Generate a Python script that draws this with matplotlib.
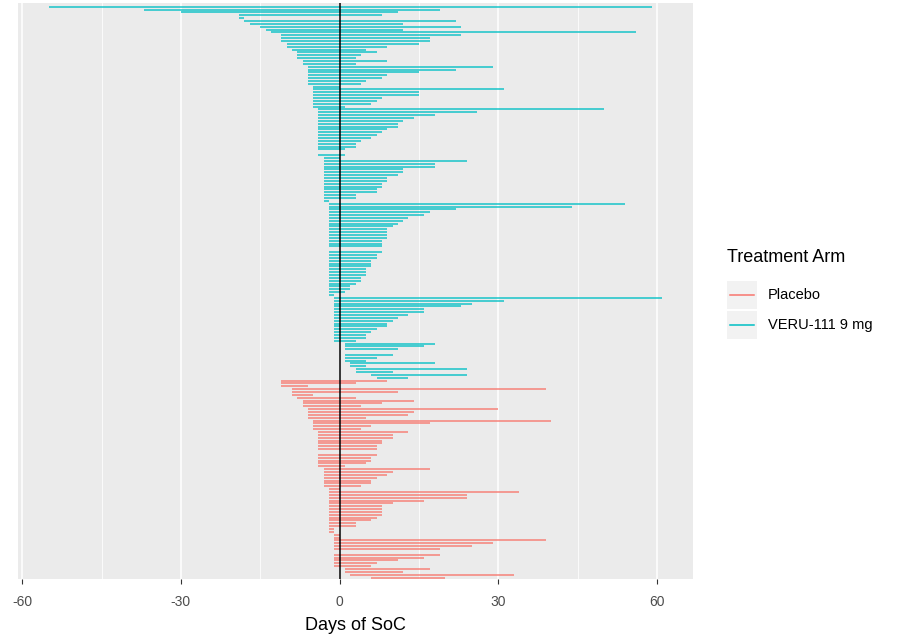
import numpy as np
import matplotlib
matplotlib.use("Agg")
import matplotlib.pyplot as plt
from matplotlib.patches import Rectangle
from matplotlib.lines import Line2D

plt.rcParams['font.family'] = ['Liberation Sans', 'DejaVu Sans']
plt.rcParams['axes.unicode_minus'] = False

# VERU-111 9 mg rows, top to bottom (nan = empty row)
veru_start = [-55, -37, -30, -19, -19, -18, -17, -15, -14, -13, -11, -11, -11, -10, -10, -9,
              -8, -8, -8, -7, -7, -6, -6, -6, -6, -6, -6, -6, -5, -5, -5, -5, -5, -5, -5, -5,
              -4, -4, -4, -4, -4, -4, -4, -4, -4, -4, -4, -4, -4, -4, -4, np.nan, -4,
              -3, -3, -3, -3, -3, -3, -3, -3, -3, -3, -3, -3, -3, -3, -3, -3,
              -2, -2, -2, -2, -2, -2, -2, -2, -2, -2, -2, -2, -2, -2, -2, -2, np.nan,
              -2, -2, -2, -2, -2, -2, -2, -2, -2, -2, -2, -2, -2, -2, -2, -2,
              -1, -1, -1, -1, -1, -1, -1, -1, -1, -1, -1, -1, -1, -1, -1, -1,
              1, 1, 1, np.nan, 1, 1, 1, 2, 2, 3, 3, 6, 7]
veru_end = [59, 19, 11, 8, -18, 22, 12, 23, 12, 56, 23, 17, 17, 15, 9, 5,
            7, 4, 3, 9, 3, 29, 22, 15, 9, 8, 5, 4, 0, 31, 15, 15, 8, 7, 6, 1,
            50, 26, 18, 14, 12, 11, 11, 9, 8, 7, 6, 4, 3, 3, 1, np.nan, 1,
            0, 24, 18, 18, 12, 12, 11, 9, 9, 8, 8, 7, 7, 3, 3, -2,
            54, 44, 22, 17, 16, 13, 12, 11, 10, 9, 9, 9, 9, 8, 8, 8, np.nan,
            8, 7, 7, 6, 6, 6, 5, 5, 5, 4, 4, 3, 2, 2, 1, -1,
            61, 31, 25, 23, 16, 16, 13, 11, 10, 9, 9, 7, 6, 5, 5, 3,
            18, 16, 11, np.nan, 10, 7, 5, 18, 5, 24, 10, 24, 13]

# Placebo rows, top to bottom
plac_start = [-11, -11, -11, -9, -9, -9, -8, -7, -7, -7, -6, -6, -6, -6, -5, -5, -5, -5,
              -4, -4, -4, -4, -4, -4, -4, np.nan, -4, -4, -4, -4, -4,
              -3, -3, -3, -3, -3, -3, -3,
              -2, -2, -2, -2, -2, -2, -2, -2, -2, -2, -2, -2, -2, -2, -2, -2,
              -1, -1, -1, -1, -1, -1, np.nan, -1, -1, -1, -1, -1, 1, 1, 2, 6]
plac_end = [9, 3, -6, 39, 11, -5, 3, 14, 8, 4, 30, 14, 13, 5, 40, 17, 6, 4,
            13, 10, 10, 8, 8, 7, 7, np.nan, 7, 6, 6, 5, 1,
            17, 10, 9, 7, 6, 6, 4,
            0, 34, 24, 24, 16, 10, 8, 8, 8, 8, 7, 6, 3, 3, -1, -1,
            0, 0, 39, 29, 25, 19, np.nan, 19, 16, 11, 7, 6, 17, 12, 33, 20]

arms = ["Placebo", "VERU-111 9 mg"]
colors = ["#F8766D", "#00BFC4"]
x_ticks = [-60, -30, 0, 30, 60]

fig = plt.figure(figsize=(8.97, 6.36), dpi=100)
ax = fig.add_axes([18 / 897, 1 - 579 / 636, 675 / 897, 576 / 636])
ax.set_facecolor("#EBEBEB")

n_v = len(veru_start)
y_v = np.arange(n_v)
y_p = np.arange(len(plac_start)) + n_v
ax.hlines(y_v, veru_start, veru_end, color=colors[1], lw=1.1, alpha=0.9, zorder=3)
ax.hlines(y_p, plac_start, plac_end, color=colors[0], lw=1.1, alpha=0.9, zorder=3)
ax.axvline(0, color="black", lw=1.1, zorder=4)

n = n_v + len(plac_start)
ax.set_ylim(n - 1 + 0.5, -1.3)
ax.set_xlim(-60.8, 66.8)
ax.set_yticks([])
ax.set_xticks(x_ticks)
ax.set_xticks([-45, -15, 15, 45], minor=True)
ax.grid(True, axis="x", which="major", color="white", lw=1.1)
ax.grid(True, axis="x", which="minor", color="white", lw=0.55)
ax.set_axisbelow(True)
ax.tick_params(axis="x", which="major", length=3.5, width=0.8, color="#333333",
               labelsize=10, labelcolor="#4D4D4D", pad=8)
ax.tick_params(axis="x", which="minor", length=0)
for s in ax.spines.values():
    s.set_visible(False)
ax.set_xlabel("Days of SoC", fontsize=13, labelpad=6)

# legend drawn by hand, ggplot style
fig.text(727 / 897, 1 - 257 / 636, "Treatment Arm", fontsize=13, va="center", ha="left")
key_y = [295, 325]
for lab, col, yk in zip(arms, colors, key_y):
    fig.add_artist(Rectangle((727 / 897, 1 - (yk + 14) / 636), 30 / 897, 28 / 636,
                             transform=fig.transFigure, facecolor="#F2F2F2", edgecolor="none"))
    fig.add_artist(Line2D([730 / 897, 754 / 897], [1 - yk / 636] * 2,
                          transform=fig.transFigure, color=col, lw=1.1))
    fig.text(768 / 897, 1 - yk / 636, lab, fontsize=10.5, va="center", ha="left")

fig.savefig("out.png", dpi=100)
